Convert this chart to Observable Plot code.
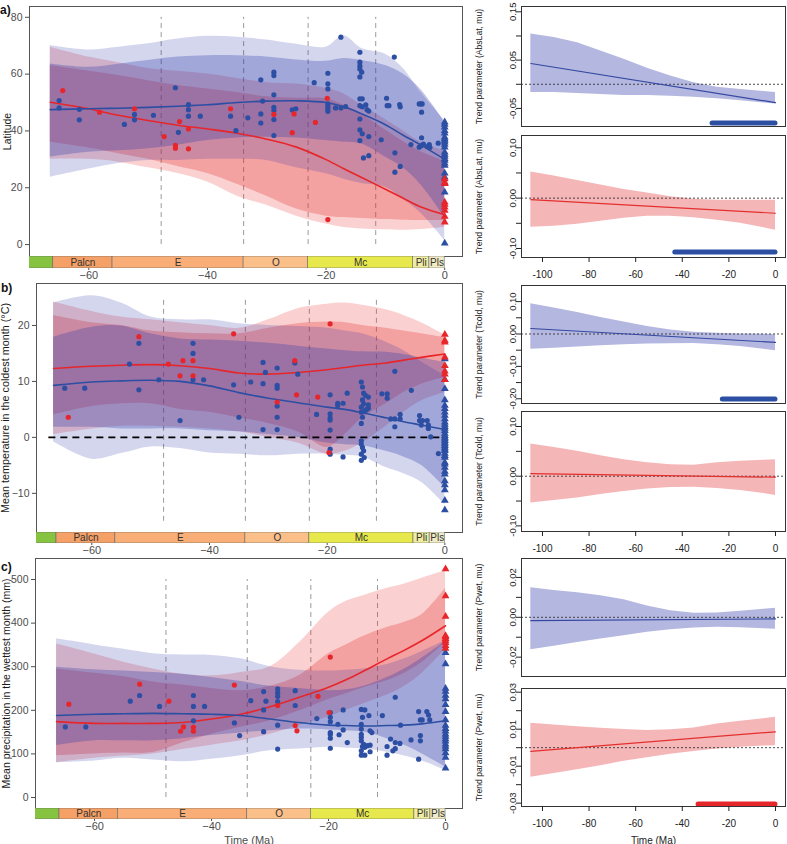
<!DOCTYPE html>
<html><head><meta charset="utf-8">
<script src="https://cdn.jsdelivr.net/npm/d3@7"></script>
<script src="https://cdn.jsdelivr.net/npm/@observablehq/plot@0.6"></script>
<style>
body{margin:0;background:#fff;}
#root{position:relative;width:787px;height:844px;overflow:hidden;font-family:"Liberation Sans",Arial,Helvetica,sans-serif;}
.tag{position:absolute;font-weight:bold;font-size:12px;line-height:12px;color:#111;}
</style></head><body><div id="root"></div>
<script>
// ---------- shared ----------
const PRESENT = 0;
const BOUNDS = [-47.8, -33.9, -23.03, -11.63];
const EPOCH_NAMES = ["", "Palcn", "E", "O", "Mc", "Pli", "Pls"];
const EPOCH_START = [-75, -66, -56, -33.9, -23.03, -5.33, -2.58];
const EPOCH_END = [-66, -56, -33.9, -23.03, -5.33, -2.58, 0];
const EPOCH_COLORS = ["#86c341", "#f5a066", "#f8ae76", "#fbbf8a", "#e6e84c", "#eeeda2", "#f1ecc6"];
const G = [-66.5,-60,-55,-50,-45,-40,-35,-30,-25,-20,-17,-14,-10,-7,-4,0];

// ---------- panel a : Latitude ----------
const latBlueLine = [47.5,47.8,48,48.3,48.7,49.2,50,50.5,50.6,50,48.5,46,42.2,38.5,35,30];
const latRedLine = [50.1,47.8,45.5,43.7,42,40.7,39.2,37.1,34.3,29.9,26.7,23.6,19.5,16.3,13.2,10.5];
const latBlueOuterHi = [70.1,68.5,69.5,70.7,72.4,73.3,73.0,72.0,70.5,69.5,73.5,69.0,67.0,62.0,53.5,43.7];
const latBlueOuterLo = [23.7,26.6,28.5,29.6,29.6,30.0,30.0,29.6,27.0,24.9,23.0,21.5,20.2,16.0,11.0,1.4];
const latBlueInnerHi = [63.6,62.4,63.5,64.8,66.0,66.5,66.5,66.0,65.0,64.5,65.5,64.8,63.0,60.0,54.5,43.0];
const latBlueInnerLo = [30.8,32.5,33.0,33.7,35.0,36.6,37.5,37.8,37.5,36.6,36.0,35.4,30.8,27.0,21.0,9.6];
const latRedOuterHi = [69.5,66.0,64.0,62.0,61.0,60.0,58.5,57.0,56.5,55.0,53.0,49.0,44.0,40.0,36.0,33.0];
const latRedOuterLo = [30.0,30.0,29.0,27.0,25.0,22.0,17.0,13.8,10.0,7.2,6.0,5.5,5.2,5.0,5.3,6.0];
const latRedInnerHi = [63.0,61.0,59.5,57.7,56.0,54.8,53.5,52.0,51.5,51.3,49.0,46.0,40.3,36.3,32.7,29.3];
const latRedInnerLo = [36.0,34.0,32.0,30.0,27.5,25.0,21.2,17.0,12.5,10.0,9.5,9.2,8.8,8.6,8.5,8.5];
const latBluePts = [[-65.0,50.7],[-65.0,48.1],[-61.6,47.6],[-61.6,43.9],[-54.0,42.3],[-52.3,45.8],[-52.3,43.9],[-49.1,45.5],[-45.4,55.2],[-44.9,39.5],[-43.2,49.3],[-43.2,47.5],[-43.2,45.2],[-41.2,45.2],[-36.1,45.2],[-35.2,40.1],[-33.2,44.6],
 [-31.0,46.0],[-31.0,42.8],[-30.7,50.5],[-31.0,58.0],[-28.8,60.7],[-28.8,59.5],[-28.8,52.7],[-28.8,48.3],[-28.8,47.2],[-28.8,44.0],[-28.8,38.4],[-25.7,47.4],[-25.1,47.8],[-22.0,57.0],[-19.7,60.3],[-19.7,56.6],[-19.7,54.8],[-19.7,49.5],[-19.7,48.6],[-19.7,47.8],[-19.7,46.9],[-18.4,48.1],[-17.5,48.1],[-17.5,73.0],[-16.7,48.6],
 [-14.3,67.7],[-14.3,64.2],[-14.3,62.9],[-14.3,61.8],[-14.0,60.7],[-14.3,59.0],[-14.3,51.3],[-13.9,51.3],[-14.3,48.9],[-13.9,48.5],[-13.3,49.2],[-13.1,47.5],[-12.8,47.0],[-14.3,44.2],[-14.3,40.4],[-13.9,39.0],[-12.8,38.0],[-14.3,36.6],[-13.7,30.5],[-12.8,31.3],
 [-10.7,36.9],[-9.8,51.5],[-9.7,48.9],[-9.4,48.9],[-8.5,66.0],[-7.6,49.3],[-7.5,48.5],[-8.4,32.3],[-8.4,25.5],[-7.5,27.5],[-5.7,35.2],[-4.3,49.5],[-4.0,49.5],[-3.8,49.5],[-3.9,46.6],[-3.9,37.6],[-4.3,34.3],[-4.0,34.8],[-3.6,35.4],[-2.9,34.5],[-2.6,35.2],[-2.5,34.2],[-1.1,35.7]];
const latRedPts = [[-64.4,54.2],[-58.2,46.6],[-52.3,47.8],[-47.3,38.0],[-45.4,34.9],[-45.4,33.9],[-44.7,43.3],[-43.2,40.7],[-43.2,33.7],[-36.1,47.8],[-28.8,45.8],[-25.4,46.0],[-25.7,39.4],[-21.8,43.0],[-19.8,51.5],[-19.7,8.8]];
const latBlueTri = [43.1,42.3,41.3,40.1,39.2,37.8,37.2,36.6,36.0,35.2,34.3,32.5,31.7,31.0,30.2,29.6,28.6,27.8,25.1,23.7,21.6,18.4,0.5];
const latRedTri = [23.1,21.9,21.4,14.9,14.1,13.1,12.0,9.9,7.9];

// ---------- panel b : Tcold ----------
const tcBlueLine = [9.3,9.9,10.1,10.2,10.0,9.2,8.0,7.0,6.2,5.4,5.0,4.4,3.5,2.8,2.2,1.4];
const tcRedLine = [12.3,12.7,12.9,13.0,12.8,12.3,11.5,11.3,11.6,12.1,12.5,12.9,13.3,13.8,14.3,14.9];
const tcBlueOuterHi = [24.0,25.3,24.0,21.5,21.0,21.0,20.3,20.0,19.8,19.5,19.0,18.5,17.0,15.5,13.5,11.0];
const tcBlueOuterLo = [-0.8,-3.9,-2.9,-1.7,-2.0,-2.8,-3.0,-3.3,-3.0,-3.0,-3.2,-3.5,-5.4,-6.5,-8.0,-12.0];
const tcBlueInnerHi = [17.9,19.7,19.9,18.5,17.6,17.4,17.2,16.8,16.3,15.8,15.5,15.3,15.2,14.8,14.2,13.4];
const tcBlueInnerLo = [1.8,1.8,1.5,1.5,1.5,1.2,1.0,0.5,0.0,-1.0,-1.3,-1.5,-2.5,-3.5,-5.0,-9.0];
const tcRedOuterHi = [24.2,22.5,21.5,21.0,20.5,20.0,19.5,21.0,23.0,23.8,24.0,23.6,22.8,21.8,20.5,18.3];
const tcRedOuterLo = [0.5,1.5,2.0,2.0,1.8,1.5,1.0,0.0,-1.0,-3.0,-2.5,-1.0,2.0,4.5,6.5,8.0];
const tcRedInnerHi = [21.8,20.5,20.0,19.0,18.7,18.5,18.5,19.5,20.3,20.6,20.5,20.0,19.5,19.0,18.5,17.8];
const tcRedInnerLo = [4.0,5.5,6.0,6.0,5.0,4.5,3.5,2.5,1.0,-1.8,0.5,3.5,6.0,8.0,9.5,10.7];
const tcBluePts = [[-64.6,8.8],[-61.2,8.8],[-53.6,13.1],[-52.0,16.8],[-52.0,8.5],[-48.6,10.3],[-45.0,3.0],[-42.8,16.8],[-42.8,15.0],[-42.8,10.3],[-41.0,10.3],[-35.9,9.4],[-35.0,3.6],[-33.0,9.9],
 [-30.9,13.4],[-30.5,11.6],[-30.9,9.6],[-30.9,1.4],[-28.5,12.4],[-28.5,9.3],[-28.5,8.8],[-28.5,5.6],[-28.5,3.6],[-28.5,1.4],[-25.5,13.3],[-25.0,11.3],[-21.8,4.1],[-19.5,7.6],[-19.5,4.2],[-19.5,3.5],[-19.5,3.1],[-19.5,1.3],[-19.5,-2.1],[-19.5,-3.0],[-18.2,6.1],[-18.2,5.7],[-17.3,6.1],[-17.3,-3.5],[-16.6,7.9],
 [-14.2,9.9],[-14.0,9.0],[-13.8,7.9],[-13.5,7.5],[-14.0,6.7],[-13.8,6.0],[-13.0,7.2],[-13.0,5.8],[-13.0,5.2],[-14.2,5.4],[-14.2,4.5],[-14.0,3.6],[-14.2,2.5],[-13.5,4.8],[-13.3,5.0],[-14.2,-0.6],[-14.2,-1.2],[-14.0,-1.8],[-13.8,-2.4],[-14.2,-3.0],[-13.7,-3.6],[-14.2,-4.1],
 [-10.7,7.8],[-9.8,7.8],[-9.8,7.0],[-8.5,11.8],[-9.2,3.3],[-8.5,3.3],[-8.5,1.9],[-7.6,4.1],[-7.6,3.3],[-5.7,8.4],[-4.3,3.9],[-4.3,3.0],[-3.8,3.0],[-3.0,3.0],[-4.0,2.2],[-2.8,2.2],[-2.8,1.6],[-2.4,0.1],[-1.1,-2.9]];
const tcRedPts = [[-64.0,3.6],[-52.0,18.0],[-47.0,13.1],[-44.5,13.7],[-42.8,13.7],[-45.0,11.0],[-42.8,11.0],[-35.9,18.5],[-25.5,13.7],[-28.5,6.3],[-25.2,7.6],[-21.6,7.2],[-19.5,20.3],[-19.7,-2.7]];
const tcBlueTri = [14.0,10.3,8.7,6.7,5.7,5.1,4.5,3.9,3.3,2.7,2.3,1.9,1.6,1.2,0.7,0.3,0,-0.3,-0.6,-0.9,-1.2,-1.5,-1.8,-2.1,-2.4,-2.9,-3.3,-3.6,-4.5,-4.8,-5.4,-6.1,-6.6,-7.8,-8.5,-9.4,-11.3,-13.0];
const tcRedTri = [18.4,17.3,17.0,14.3,12.8,11.8,11.3,10.3];
const tcZeroSpan = [-67.3, 0];

// ---------- panel c : Pwet ----------
const prBlueLine = [188,191,192,193,192,191,188,180,172,166,165,164,165,166,169,176];
const prRedLine = [174,170,170,170,172,180,191,208,230,253,270,290,318,338,360,394];
const prBlueOuterHi = [364,350,340,330,327,326,318,300,292,290,292,295,305,318,335,360];
const prBlueOuterLo = [80,84,90,86,82,88,96,107,111,115,113,111,104,95,84,62];
const prBlueInnerHi = [299,293,290,287,283,275,266,255,250,245,247,255,275,295,320,358];
const prBlueInnerLo = [119,130,130,130,135,142,148,153,157,155,153,150,135,120,100,70];
const prRedOuterHi = [352,329,310,295,283,279,287,300,355,425,450,463,480,490,503,520];
const prRedOuterLo = [80,90,95,100,110,120,130,145,165,185,200,215,235,255,285,340];
const prRedInnerHi = [295,285,277,265,258,250,245,255,280,330,350,370,390,402,420,480];
const prRedInnerLo = [96,100,102,103,125,145,161,176,199,225,238,252,268,285,310,356];
const prBluePts = [[-65.0,162],[-61.5,162],[-53.9,221],[-52.3,234],[-48.9,209],[-43.1,234],[-43.1,209],[-43.1,176],[-41.2,209],[-36.1,171],[-35.2,142],[-33.3,222],
 [-31.1,243],[-30.7,221],[-31.1,201],[-31.1,151],[-28.7,249],[-28.7,240],[-28.7,232],[-28.7,220],[-28.7,166],[-28.7,111],[-25.7,245],[-25.7,211],[-22.0,181],[-19.7,195],[-19.7,184],[-19.7,174],[-19.7,149],[-19.7,145],[-19.7,136],[-19.7,113],[-18.4,168],[-18.2,144],[-17.5,201],[-17.5,155],[-16.8,126],
 [-14.4,202],[-13.8,201],[-13.1,188],[-14.2,184],[-14.4,168],[-14.4,157],[-14.4,145],[-14.4,138],[-14.4,130],[-14.0,122],[-13.8,115],[-13.4,119],[-12.9,120],[-14.4,107],[-14.4,97],[-13.8,97],[-12.9,105],[-14.2,117],[-12.9,153],[-12.6,149],
 [-10.8,188],[-10.0,117],[-10.0,97],[-9.4,134],[-8.6,230],[-8.6,126],[-7.8,124],[-7.7,166],[-8.6,112],[-9.0,107],[-5.9,132],[-4.6,197],[-4.3,178],[-4.0,178],[-3.2,197],[-2.9,189],[-2.7,178],[-4.3,142],[-4.3,130],[-4.6,88]];
const prRedPts = [[-64.4,214],[-52.3,260],[-47.3,221],[-45.3,152],[-44.8,162],[-43.1,161],[-43.1,152],[-36.1,258],[-28.7,211],[-25.7,165],[-25.4,153],[-21.8,232],[-19.7,322],[-19.9,195]];
const prBlueTri = [332,306,250,243,234,226,213,197,178,165,158,152,145,140,134,129,122,117,111,102,92,67];
const prRedTri = [524,462,415,371,368,364,360,355,348,342];

// ---------- right panels : trend parameters ----------
const RT = [-105,-95,-85,-75,-65,-55,-45,-35,-25,-15,-5,0];
const MU_T = [-105, 0];
const absLatBlueHi = [0.104,0.097,0.086,0.069,0.052,0.033,0.017,0.003,-0.006,-0.011,-0.015,-0.017];
const absLatBlueLo = [-0.017,-0.017,-0.019,-0.021,-0.023,-0.023,-0.025,-0.027,-0.030,-0.034,-0.039,-0.041];
const absLatBlueMu = [0.043,-0.038];
const absLatRedHi = [0.052,0.044,0.035,0.026,0.017,0.010,0.003,-0.002,-0.004,-0.004,-0.004,-0.004];
const absLatRedLo = [-0.058,-0.056,-0.052,-0.046,-0.040,-0.036,-0.036,-0.039,-0.044,-0.050,-0.059,-0.064];
const absLatRedMu = [-0.003,-0.030];
const tcoldBlueHi = [0.093,0.080,0.066,0.051,0.037,0.023,0.012,0.005,0.002,0.000,-0.001,-0.002];
const tcoldBlueLo = [-0.047,-0.044,-0.040,-0.036,-0.033,-0.031,-0.030,-0.029,-0.033,-0.039,-0.047,-0.052];
const tcoldBlueMu = [0.017,-0.026];
const tcoldRedHi = [0.065,0.058,0.050,0.041,0.033,0.027,0.023,0.022,0.027,0.030,0.032,0.033];
const tcoldRedLo = [-0.054,-0.049,-0.044,-0.037,-0.031,-0.026,-0.023,-0.022,-0.025,-0.029,-0.035,-0.039];
const tcoldRedMu = [0.005,-0.002];
const pwetBlueHi = [0.0148,0.0135,0.0123,0.0108,0.0088,0.0057,0.0033,0.0020,0.0022,0.0030,0.0040,0.0045];
const pwetBlueLo = [-0.0163,-0.0145,-0.0127,-0.0109,-0.0092,-0.0075,-0.0062,-0.0054,-0.0050,-0.0052,-0.0058,-0.0060];
const pwetBlueMu = [-0.0017,-0.0008];
const pwetRedHi = [0.0132,0.0122,0.0113,0.0105,0.0099,0.0093,0.0097,0.0107,0.0128,0.0143,0.0157,0.0164];
const pwetRedLo = [-0.0160,-0.0140,-0.0119,-0.0097,-0.0074,-0.0054,-0.0036,-0.0020,-0.0007,0.0003,0.0009,0.0011];
const pwetRedMu = [-0.0020,0.0086];
const rugAbsLatBlue = {start: -27, end: 0, y: -0.080};
const rugAbsLatRed = {start: -43, end: 0, y: -0.107};
const rugTcoldBlue = {start: -22.6, end: 0, y: -0.201};
const rugPwetRed = {start: -33, end: 0, y: -0.0304};
const RX_TICKS = [-100,-80,-60,-40,-20,0];

// ---------- drawing ----------
const FONT = "'Liberation Sans', Arial, Helvetica, sans-serif";
const BLUE = "#2d4fa3", RED = "#e7262b";
const BLUE_RIB = "#2832aa", RED_RIB = "#e62828";
const root = document.getElementById("root");
function place(svg, left, top) {
  svg.style.position = "absolute"; svg.style.left = left + "px"; svg.style.top = top + "px";
  root.appendChild(svg);
}
function tag(text, left, top) {
  const d = document.createElement("div"); d.className = "tag"; d.textContent = text;
  d.style.left = left + "px"; d.style.top = top + "px"; root.appendChild(d);
}
const baseStyle = {fontFamily: FONT, background: "transparent", overflow: "visible"};

function leftPanel(p) {
  const rib = (lo, hi) => G.map((t, i) => ({t, lo: lo[i], hi: hi[i]}));
  const ln = v => G.map((t, i) => ({t, v: v[i]}));
  const pts = arr => arr.map(([t, v]) => ({t, v}));
  const tri = arr => arr.map(v => ({t: PRESENT, v}));
  const curve = "catmull-rom";
  const marks = [
    Plot.ruleX(BOUNDS, {y1: p.vspan[0], y2: p.vspan[1], stroke: "#9a9a9a", strokeDasharray: "5,4", strokeWidth: 1}),
    Plot.areaY(rib(p.rOutLo, p.rOutHi), {x: "t", y1: "lo", y2: "hi", fill: RED_RIB, fillOpacity: 0.22, curve}),
    Plot.areaY(rib(p.rInLo, p.rInHi), {x: "t", y1: "lo", y2: "hi", fill: RED_RIB, fillOpacity: 0.28, curve}),
    Plot.areaY(rib(p.bOutLo, p.bOutHi), {x: "t", y1: "lo", y2: "hi", fill: BLUE_RIB, fillOpacity: 0.2, curve}),
    Plot.areaY(rib(p.bInLo, p.bInHi), {x: "t", y1: "lo", y2: "hi", fill: BLUE_RIB, fillOpacity: 0.29, curve})
  ];
  if (p.zero) marks.push(Plot.ruleY([0], {x1: p.zero[0], x2: p.zero[1], stroke: "#000", strokeWidth: 1.8, strokeDasharray: "7,5"}));
  marks.push(
    Plot.line(ln(p.redLine), {x: "t", y: "v", stroke: RED, strokeWidth: 1.6, curve}),
    Plot.line(ln(p.blueLine), {x: "t", y: "v", stroke: BLUE, strokeWidth: 1.6, curve}),
    Plot.dot(pts(p.bluePts), {x: "t", y: "v", r: 2.6, fill: BLUE}),
    Plot.dot(pts(p.redPts), {x: "t", y: "v", r: 2.6, fill: RED}),
    Plot.dot(tri(p.blueTri), {x: "t", y: "v", r: 2.9, fill: BLUE, symbol: "triangle"}),
    Plot.dot(tri(p.redTri), {x: "t", y: "v", r: 2.9, fill: RED, symbol: "triangle"}),
    Plot.frame({stroke: "#555"}),
    Plot.axisY({ticks: p.yTicks, tickSize: 4, tickPadding: 3, fontSize: 10.5, color: "#4d4d4d", label: null}),
    Plot.axisY({ticks: [], tickSize: 0, fontSize: p.labelSize, color: "#1a1a1a", label: p.label, labelAnchor: "center", labelArrow: "none", labelOffset: p.labelOffset})
  );
  const svg = Plot.plot({width: 465, height: p.h, marginLeft: p.ml, marginRight: 3, marginTop: p.mt, marginBottom: 0,
    x: {domain: p.xDomain, axis: null}, y: {domain: p.yDomain}, style: baseStyle, marks});
  place(svg, 0, p.top);
}

function timeBar(p) {
  const epochs = EPOCH_NAMES.map((name, i) => ({name, x1: EPOCH_START[i], x2: EPOCH_END[i], fill: EPOCH_COLORS[i]}));
  const svg = Plot.plot({width: 465, height: p.h, marginLeft: p.ml, marginRight: 3, marginTop: 0, marginBottom: p.h - p.barH,
    x: {domain: p.xDomain}, color: {type: "identity"}, style: baseStyle,
    marks: [
      Plot.barX(epochs, {x1: "x1", x2: "x2", fill: "fill", stroke: "#6a6a6a", strokeWidth: 0.6, clip: true}),
      Plot.text(epochs, {x: d => (Math.max(d.x1, p.xDomain[0]) + d.x2) / 2, text: "name", fontSize: 10, fill: "#333"}),
      Plot.axisX({ticks: [-60, -40, -20, 0], tickSize: 2, tickPadding: 1, fontSize: 11, color: "#4d4d4d",
        label: p.xlabel || null, labelAnchor: "center", labelArrow: "none", labelOffset: p.labelOffset || 20})
    ]});
  place(svg, 0, p.top);
}

const fmtR = d => (Math.abs(d) < 1e-12 ? 0 : d).toFixed(2);
function rightPanel(p) {
  const band = RT.map((t, i) => ({t, lo: p.lo[i], hi: p.hi[i]}));
  const mu = MU_T.map((t, i) => ({t, v: p.mu[i]}));
  const marks = [
    Plot.areaY(band, {x: "t", y1: "lo", y2: "hi", fill: p.fill}),
    Plot.ruleY([0], {stroke: "#333", strokeDasharray: "2,2", strokeWidth: 0.9}),
    Plot.line(mu, {x: "t", y: "v", stroke: p.stroke, strokeWidth: 1.2})
  ];
  if (p.rug) marks.push(Plot.ruleY([p.rug], {y: "y", x1: "start", x2: "end", stroke: p.rugColor, strokeWidth: 5, strokeLinecap: "round"}));
  marks.push(
    Plot.frame({stroke: "#333"}),
    Plot.axisY({ticks: p.ticks, tickFormat: d => p.shown.includes(d) ? fmtR(d) : "", tickSize: 5, tickPadding: 1, tickRotate: -90, fontSize: 9.5, color: "#222", label: null}),
    Plot.axisY({ticks: [], tickSize: 0, fontSize: 8.6, color: "#222", label: p.label, labelAnchor: "center", labelArrow: "none", labelOffset: 45.5})
  );
  if (p.xAxis) marks.push(Plot.axisX({ticks: RX_TICKS, tickFormat: d => String(d), tickSize: 5, tickPadding: 8, fontSize: 10, color: "#222",
    label: p.xLabel || null, labelAnchor: "center", labelArrow: "none", labelOffset: p.xLabelOffset || 20}));
  const svg = Plot.plot({width: 337, height: p.h, marginLeft: 71, marginRight: 2, marginTop: p.mt, marginBottom: p.mb,
    x: {domain: [-109.0, 4.3], axis: p.xAxis ? undefined : null}, y: {domain: p.yDomain}, style: baseStyle, marks});
  place(svg, 450, p.top);
}

// ---- left column ----
leftPanel({top: 0, h: 256, mt: 6, ml: 29, xDomain: [-70.0, 3.0], yDomain: [-4.2, 83.8], yTicks: [0, 20, 40, 60, 80],
  label: "Latitude", labelSize: 10.5, labelOffset: 26, vspan: [0, 80],
  blueLine: latBlueLine, redLine: latRedLine, bOutLo: latBlueOuterLo, bOutHi: latBlueOuterHi, bInLo: latBlueInnerLo, bInHi: latBlueInnerHi,
  rOutLo: latRedOuterLo, rOutHi: latRedOuterHi, rInLo: latRedInnerLo, rInHi: latRedInnerHi,
  bluePts: latBluePts, redPts: latRedPts, blueTri: latBlueTri, redTri: latRedTri});
timeBar({top: 256, h: 30, barH: 12, ml: 29, xDomain: [-70.0, 3.0]});

leftPanel({top: 270, h: 262, mt: 13, ml: 36, xDomain: [-69.4, 3.0], yDomain: [-17.0, 27.5], yTicks: [-10, 0, 10, 20],
  label: "Mean temperature in the coldest month (°C)", labelSize: 10.8, labelOffset: 35, vspan: [-15, 25], zero: tcZeroSpan,
  blueLine: tcBlueLine, redLine: tcRedLine, bOutLo: tcBlueOuterLo, bOutHi: tcBlueOuterHi, bInLo: tcBlueInnerLo, bInHi: tcBlueInnerHi,
  rOutLo: tcRedOuterLo, rOutHi: tcRedOuterHi, rInLo: tcRedInnerLo, rInHi: tcRedInnerHi,
  bluePts: tcBluePts, redPts: tcRedPts, blueTri: tcBlueTri, redTri: tcRedTri});
timeBar({top: 532, h: 28, barH: 11, ml: 36, xDomain: [-69.4, 3.0]});

leftPanel({top: 545, h: 263, mt: 13, ml: 35, xDomain: [-70.1, 2.9], yDomain: [-25.2, 548.2], yTicks: [0, 100, 200, 300, 400, 500],
  label: "Mean precipitation in the wettest month (mm)", labelSize: 10.5, labelOffset: 33, vspan: [0, 500],
  blueLine: prBlueLine, redLine: prRedLine, bOutLo: prBlueOuterLo, bOutHi: prBlueOuterHi, bInLo: prBlueInnerLo, bInHi: prBlueInnerHi,
  rOutLo: prRedOuterLo, rOutHi: prRedOuterHi, rInLo: prRedInnerLo, rInHi: prRedInnerHi,
  bluePts: prBluePts, redPts: prRedPts, blueTri: prBlueTri, redTri: prRedTri});
timeBar({top: 808, h: 36, barH: 11, ml: 35, xDomain: [-70.1, 2.9], xlabel: "Time (Ma)", labelOffset: 24});

tag("a)", 0, 4); tag("b)", 1, 282); tag("c)", 1, 561);

// ---- right column ----
const BLUE_BAND = "#b4b7e0", RED_BAND = "#f5b6b8", BLUE_MU = "#3448a0", RED_MU = "#e3302d";
rightPanel({top: 0, h: 130, mt: 6, mb: 4, yDomain: [-0.0874, 0.161], ticks: [-0.05, 0, 0.05, 0.1, 0.15], shown: [-0.05, 0.05, 0.15],
  label: "Trend parameter (AbsLat, mu)", lo: absLatBlueLo, hi: absLatBlueHi, mu: absLatBlueMu, fill: BLUE_BAND, stroke: BLUE_MU,
  rug: rugAbsLatBlue, rugColor: BLUE});
rightPanel({top: 130, h: 151, mt: 5, mb: 24, yDomain: [-0.1179, 0.1244], ticks: [-0.1, -0.05, 0, 0.05, 0.1], shown: [-0.1, 0, 0.1],
  label: "Trend parameter (AbsLat, mu)", lo: absLatRedLo, hi: absLatRedHi, mu: absLatRedMu, fill: RED_BAND, stroke: RED_MU,
  rug: rugAbsLatRed, rugColor: BLUE, xAxis: true});
rightPanel({top: 281, h: 126, mt: 4, mb: 4, yDomain: [-0.2146, 0.1497], ticks: [-0.2, -0.15, -0.1, -0.05, 0, 0.05, 0.1], shown: [-0.2, -0.1, 0, 0.1],
  label: "Trend parameter (Tcold, mu)", lo: tcoldBlueLo, hi: tcoldBlueHi, mu: tcoldBlueMu, fill: BLUE_BAND, stroke: BLUE_MU,
  rug: rugTcoldBlue, rugColor: BLUE});
rightPanel({top: 407, h: 148, mt: 4, mb: 24, yDomain: [-0.1113, 0.1302], ticks: [-0.1, -0.05, 0, 0.05, 0.1], shown: [-0.1, 0, 0.1],
  label: "Trend parameter (Tcold, mu)", lo: tcoldRedLo, hi: tcoldRedHi, mu: tcoldRedMu, fill: RED_BAND, stroke: RED_MU, xAxis: true});
rightPanel({top: 555, h: 125, mt: 3, mb: 4, yDomain: [-0.0297, 0.0295], ticks: [-0.02, -0.01, 0, 0.01, 0.02], shown: [-0.02, 0, 0.02],
  label: "Trend parameter (Pwet, mu)", lo: pwetBlueLo, hi: pwetBlueHi, mu: pwetBlueMu, fill: BLUE_BAND, stroke: BLUE_MU});
rightPanel({top: 680, h: 164, mt: 8, mb: 38, yDomain: [-0.0318, 0.0320], ticks: [-0.03, -0.02, -0.01, 0, 0.01, 0.02, 0.03], shown: [-0.03, -0.01, 0.01, 0.03],
  label: "Trend parameter (Pwet, mu)", lo: pwetRedLo, hi: pwetRedHi, mu: pwetRedMu, fill: RED_BAND, stroke: RED_MU,
  rug: rugPwetRed, rugColor: RED, xAxis: true, xLabel: "Time (Ma)", xLabelOffset: 37});
</script></body></html>
